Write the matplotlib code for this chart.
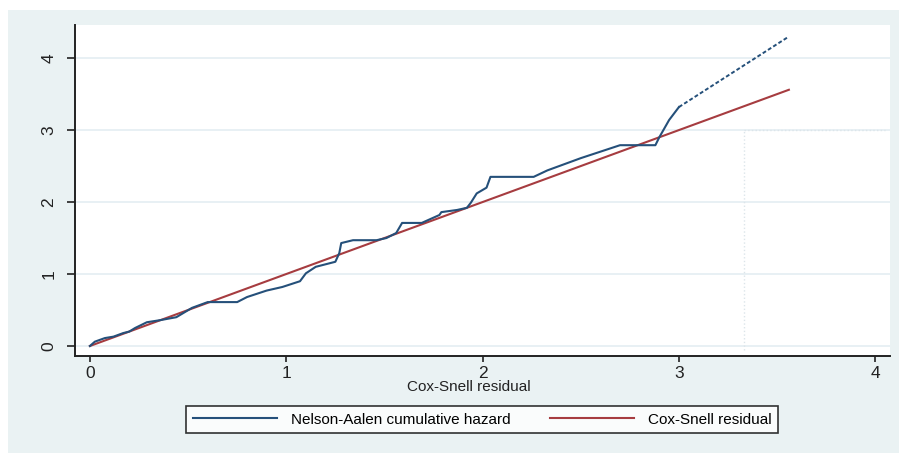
import matplotlib.pyplot as plt
from matplotlib.patches import Rectangle

# Nelson-Aalen cumulative hazard vs Cox-Snell residual
na_x = [0.00, 0.025, 0.076, 0.12, 0.17, 0.20, 0.23, 0.29, 0.36, 0.44, 0.52,
        0.60, 0.66, 0.75, 0.80, 0.90, 0.98, 1.07, 1.10, 1.15, 1.25, 1.27,
        1.28, 1.34, 1.46, 1.51, 1.56, 1.59, 1.69, 1.78, 1.79, 1.87, 1.92,
        1.94, 1.97, 2.02, 2.04, 2.26, 2.33, 2.50, 2.70, 2.88, 2.90, 2.95, 3.00]
na_y = [0.00, 0.06, 0.11, 0.13, 0.18, 0.20, 0.25, 0.33, 0.36, 0.40, 0.53,
        0.61, 0.61, 0.61, 0.68, 0.77, 0.82, 0.90, 1.01, 1.10, 1.17, 1.29,
        1.43, 1.47, 1.47, 1.50, 1.57, 1.71, 1.71, 1.82, 1.86, 1.89, 1.92,
        1.99, 2.12, 2.20, 2.35, 2.35, 2.44, 2.61, 2.79, 2.79, 2.90, 3.14, 3.32]

# last stretch of the hazard curve, drawn dotted in the original
tail_x = [3.00, 3.56]
tail_y = [3.32, 4.30]

# reference line: Cox-Snell residual against itself
cs_x = [0.0, 3.56]
cs_y = [0.0, 3.56]

xticks = [0, 1, 2, 3, 4]
yticks = [0, 1, 2, 3, 4]

blue = "#25507a"
red = "#a63c40"
bg = "#eaf2f3"
grid = "#e4eef2"

plt.rcParams["font.family"] = ["Liberation Sans", "DejaVu Sans"]

W, H = 899, 453
fig = plt.figure(figsize=(W / 100, H / 100), dpi=100, facecolor="white")
fig.patches.append(Rectangle((8 / W, 0), 1 - 8 / W, 1 - 10 / H,
                             transform=fig.transFigure, facecolor=bg,
                             edgecolor="none", zorder=-10))

ax = fig.add_axes([75 / W, 1 - 356 / H, 815 / W, 331 / H])
ax.set_facecolor("white")

for y in yticks:
    ax.axhline(y, color=grid, linewidth=1.2, zorder=0)

# faint dotted rectangle visible in the reference
ax.plot([3.33, 3.33], [-0.05, 3.0], color="#dce5ea", linestyle=":", linewidth=1.0, zorder=0)
ax.plot([3.33, 4.05], [3.0, 3.0], color="#dce5ea", linestyle=":", linewidth=1.0, zorder=0)

ax.plot(na_x, na_y, color=blue, linewidth=1.5, label="Nelson-Aalen cumulative hazard", zorder=3)
ax.plot(tail_x, tail_y, color=blue, linewidth=1.4, linestyle=(0, (2, 1.2)), zorder=3)
ax.plot(cs_x, cs_y, color=red, linewidth=1.5, label="Cox-Snell residual", zorder=2)

ax.set_xlim(-0.076, 4.075)
ax.set_ylim(-0.139, 4.46)
ax.set_xticks(xticks)
ax.set_yticks(yticks)

for side in ["top", "right"]:
    ax.spines[side].set_visible(False)
for side in ["left", "bottom"]:
    ax.spines[side].set_linewidth(1.4)
    ax.spines[side].set_color("#222222")

ax.tick_params(axis="x", length=4.5, width=1.2, pad=3, labelsize=12.5, colors="#222222")
ax.tick_params(axis="y", length=5.5, width=1.2, pad=8, labelsize=12.5, colors="#222222")
for lab in ax.get_yticklabels():
    lab.set_rotation(90)
    lab.set_va("center")

ax.set_xlabel("Cox-Snell residual", fontsize=11, color="#222222")
ax.xaxis.set_label_coords((469 - 75) / 815, -0.072)

leg = fig.legend(loc="center", bbox_to_anchor=(482 / W, 1 - 419.5 / H), ncol=2,
                 fontsize=11, frameon=True, fancybox=False, edgecolor="black",
                 handlelength=5.5, handletextpad=0.9, columnspacing=2.6,
                 borderpad=0.45)
leg.get_frame().set_linewidth(1.2)

fig.savefig("out.png", dpi=100, facecolor=fig.get_facecolor())
